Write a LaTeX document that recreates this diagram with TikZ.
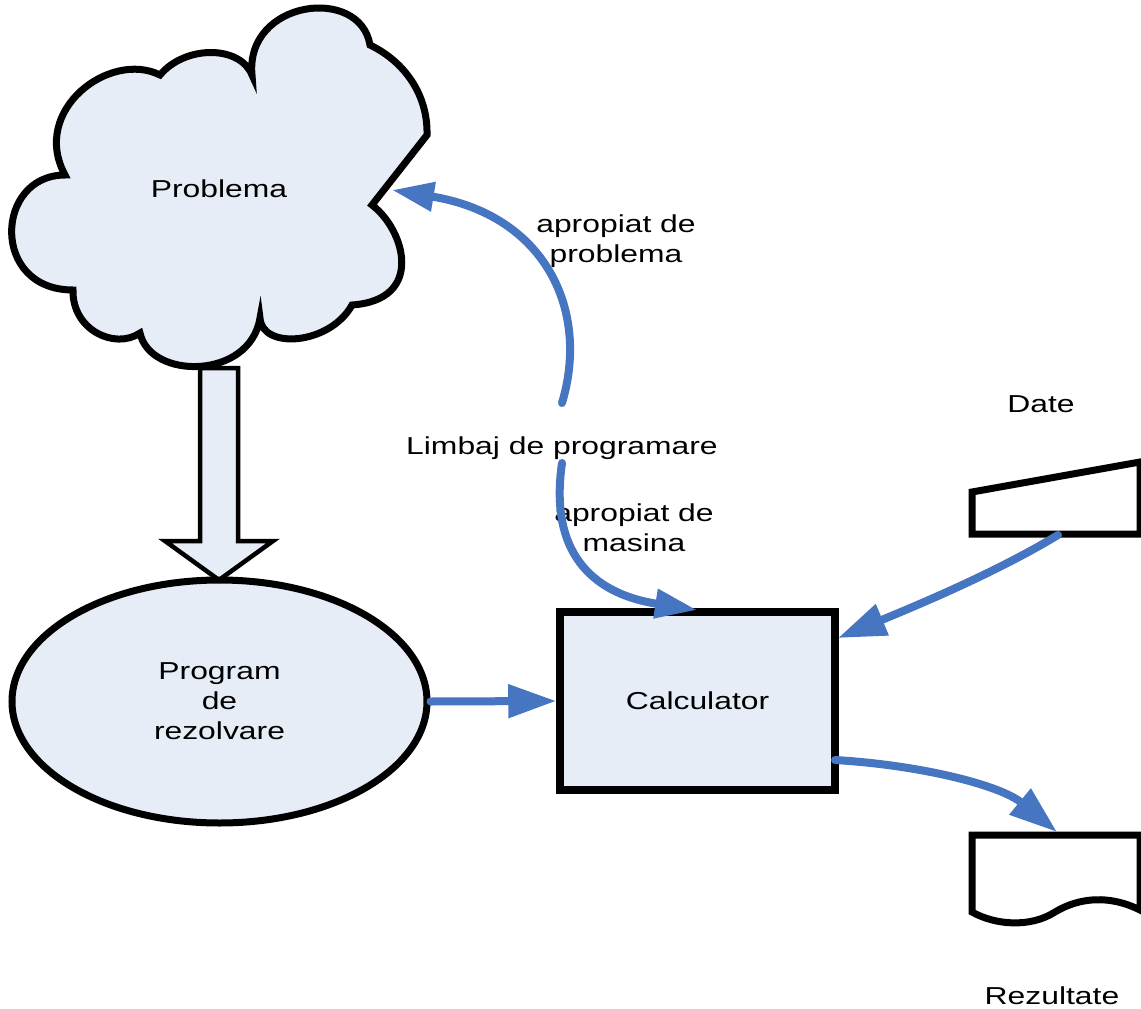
\documentclass[tikz,border=0pt]{standalone}
\usepackage{fontspec}
\setmainfont{Liberation Sans}
\usetikzlibrary{arrows.meta,shapes.geometric}
\definecolor{fillblue}{RGB}{230,237,247}
\definecolor{arrowblue}{RGB}{70,117,193}
\newcommand{\wt}[1]{\scalebox{1.3}[1]{#1}}
\begin{document}
\begin{tikzpicture}[x=1pt,y=-1pt,
  lbl/.style={font=\fontsize{24.5}{30}\selectfont, align=center, inner sep=0pt},
  outline/.style={draw=black, line width=7pt},
  flow/.style={draw=arrowblue, line width=8pt, line cap=round, -{Triangle[length=48pt,width=32pt]}},
  flowc/.style={draw=arrowblue, line width=8pt, line cap=round, -{Triangle[length=42pt,width=28pt]}}
]
\fill[white] (0,0) rectangle (1141,1009);
\useasboundingbox (0,0) rectangle (1141,1009);

% cloud
\draw[outline, fill=fillblue] (252,75) .. controls (245,0) and (360,-15) .. (370,45)
 .. controls (405,62) and (428,95) .. (427,135)
 -- (372,205)
 .. controls (405,230) and (425,300) .. (352,305)
 .. controls (330,345) and (262,350) .. (260,318)
 .. controls (250,380) and (150,380) .. (140,333)
 .. controls (115,350) and (72,330) .. (73,290)
 .. controls (-10,290) and (-5,175) .. (65,175)
 .. controls (30,110) and (110,50) .. (160,75)
 .. controls (185,45) and (240,45) .. (252,75) -- cycle;
\node[lbl, anchor=base] (prob) at (219,197) {\wt{Problema}};

% block arrow
\draw[line width=4.5pt, fill=fillblue] (200,368) -- (238,368) -- (238,541) -- (273,541) -- (219,580) -- (165,541) -- (200,541) -- cycle;

% ellipse
\node[ellipse, outline, fill=fillblue, minimum width=415pt, minimum height=243pt, inner sep=0pt, lbl] (prog) at (219.5,701.5) {\wt{Program}\\\wt{de}\\\wt{rezolvare}};

% calculator
\node[draw=black, line width=7.5pt, fill=fillblue, minimum width=275pt, minimum height=178pt, lbl] (calc) at (697.5,701) {\wt{Calculator}};

% labels
\node[lbl, anchor=base] (limbaj) at (562,454) {\wt{Limbaj de programare}};
\node[lbl] (approb) at (616,241) {\wt{apropiat de}\\\wt{problema}};
\node[lbl] (apmas) at (634,528) {\wt{apropiat de}\\\wt{masina}};
\node[lbl, anchor=base] (datel) at (1041,412) {\wt{Date}};
\node[lbl, anchor=base] (rezl) at (1052,1004) {\wt{Rezultate}};

% data shapes
\draw[outline] (1140,462) -- (972,492) -- (972,534) -- (1140,534) -- cycle;
\draw[outline] (972,835) -- (1140,835) -- (1140,910)
  .. controls (1110,895) and (1080,897) .. (1055,912)
  .. controls (1030,928) and (995,925) .. (972,912) -- cycle;

% coordinates
\coordinate (c1s) at (562,403);
\coordinate (c1e) at (392,190);
\coordinate (c2s) at (562,463);
\coordinate (c2e) at (697,610);
\coordinate (ds) at (1058,535);
\coordinate (de) at (838,638);
\coordinate (rs) at (835,760);
\coordinate (re) at (1057,832);

% connectors
\draw[flow] (prog.east) -- (calc.west);
\draw[flowc] (c1s) .. controls (590,310) and (545,215) .. (c1e);
\draw[flowc] (c2s) .. controls (548,560) and (600,595) .. (c2e);
\draw[flow] (ds) .. controls (1000,570) and (930,600) .. (de);
\draw[flow] (rs) .. controls (920,765) and (1000,785) .. (re);
\end{tikzpicture}
\end{document}
